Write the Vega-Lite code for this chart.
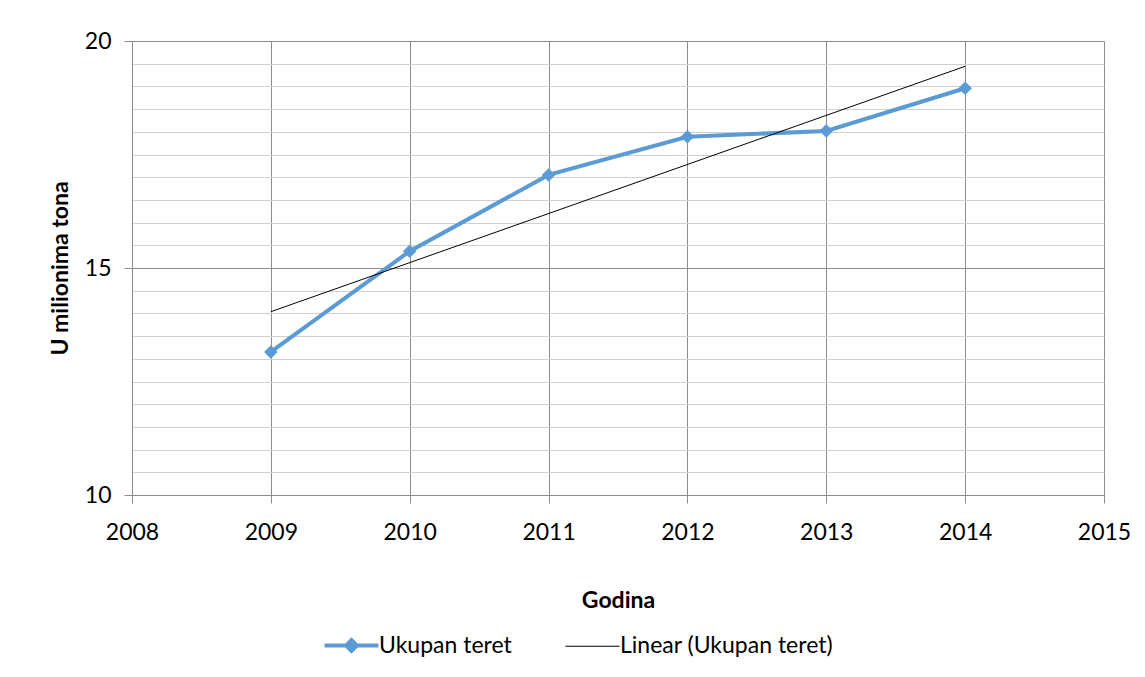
{
  "$schema": "https://vega.github.io/schema/vega-lite/v6.json",
  "width": 972,
  "height": 454,
  "autosize": "none",
  "padding": {"left": 132, "top": 41, "right": 41, "bottom": 182},
  "background": "white",
  "config": {
    "view": {"stroke": null},
    "font": "Lato",
    "axis": {"labelFont": "Lato", "titleFont": "Lato", "labelColor": "#000000", "titleColor": "#000000"},
    "legend": {"labelFont": "Lato"}
  },
  "data": {
    "values": [
      {"year": 2009, "value": 13.15, "series": "Ukupan teret"},
      {"year": 2010, "value": 15.37, "series": "Ukupan teret"},
      {"year": 2011, "value": 17.05, "series": "Ukupan teret"},
      {"year": 2012, "value": 17.89, "series": "Ukupan teret"},
      {"year": 2013, "value": 18.02, "series": "Ukupan teret"},
      {"year": 2014, "value": 18.96, "series": "Ukupan teret"}
    ]
  },
  "encoding": {
    "x": {
      "field": "year", "type": "quantitative",
      "scale": {"domain": [2008, 2015], "nice": false, "zero": false},
      "axis": {
        "values": [2008, 2009, 2010, 2011, 2012, 2013, 2014, 2015],
        "format": "d",
        "grid": true, "gridColor": "#8c8c8c", "gridWidth": 1,
        "domain": true, "domainColor": "#8c8c8c",
        "ticks": true, "tickColor": "#8c8c8c", "tickSize": 8,
        "labelFontSize": 23, "labelPadding": 18, "labelFlush": false,
        "title": "Godina", "titleFontSize": 23, "titleFontWeight": "bold", "titlePadding": 45
      }
    },
    "y": {
      "field": "value", "type": "quantitative",
      "scale": {"domain": [10, 20], "nice": false, "zero": false},
      "axis": {
        "values": [10, 10.5, 11, 11.5, 12, 12.5, 13, 13.5, 14, 14.5, 15, 15.5, 16, 16.5, 17, 17.5, 18, 18.5, 19, 19.5, 20],
        "labelExpr": "datum.value % 5 === 0 ? format(datum.value, 'd') : ''",
        "grid": true,
        "gridColor": {"condition": {"test": "datum.value % 5 === 0", "value": "#8c8c8c"}, "value": "#d0d0d0"},
        "domain": true, "domainColor": "#8c8c8c",
        "ticks": true, "tickColor": "#8c8c8c", "tickSize": 8,
        "tickOpacity": {"condition": {"test": "datum.value % 5 === 0", "value": 1}, "value": 0},
        "labelFontSize": 23, "labelPadding": 13, "labelFlush": false, "labelOverlap": false,
        "title": "U milionima tona", "titleFontSize": 23, "titleFontWeight": "bold", "titlePadding": 12
      }
    }
  },
  "layer": [
    {
      "mark": {"type": "line", "strokeWidth": 4},
      "encoding": {
        "color": {
          "field": "series", "type": "nominal",
          "scale": {"domain": ["Ukupan teret", "Linear (Ukupan teret)"], "range": ["#5B9BD5", "#000000"]},
          "legend": {
            "orient": "none", "legendX": 208, "legendY": 593, "direction": "horizontal",
            "title": null, "symbolSize": 2916, "labelFontSize": 23, "labelColor": "#000000",
            "labelOffset": 16, "columnPadding": 51, "labelLimit": 500, "symbolType": "M-1,0L1,0",
            "encode": {
              "symbols": {
                "update": {
                  "shape": {"signal": "datum.value === 'Ukupan teret' ? 'M-1,0L1,0M0,-0.2L0.2,0L0,0.2L-0.2,0Z' : 'M-1,0L1,0'"},
                  "fill": {"signal": "datum.value === 'Ukupan teret' ? '#5B9BD5' : 'transparent'"},
                  "stroke": {"signal": "datum.value === 'Ukupan teret' ? '#5B9BD5' : '#000000'"},
                  "strokeWidth": {"signal": "datum.value === 'Ukupan teret' ? 4 : 1"},
                  "opacity": {"value": 1}
                }
              }
            }
          }
        }
      }
    },
    {
      "mark": {"type": "point", "shape": "diamond", "filled": true, "size": 185, "opacity": 1},
      "encoding": {
        "color": {"field": "series", "type": "nominal"}
      }
    },
    {
      "transform": [{"regression": "value", "on": "year"}],
      "mark": {"type": "line", "strokeWidth": 1},
      "encoding": {
        "color": {"datum": "Linear (Ukupan teret)"}
      }
    }
  ]
}
